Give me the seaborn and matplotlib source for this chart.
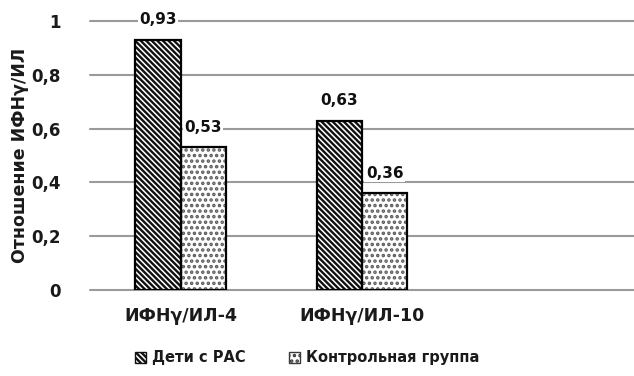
import matplotlib
matplotlib.use("Agg")
import matplotlib.pyplot as plt
from matplotlib.patches import Rectangle
import seaborn as sns
import pandas as pd

# Chart data
categories = ["ИФНγ/ИЛ-4", "ИФНγ/ИЛ-10"]
groups = ["Дети с РАС", "Контрольная группа"]
values_asd = [0.93, 0.63]
values_control = [0.53, 0.36]
y_ticks = [0, 0.2, 0.4, 0.6, 0.8, 1.0]
y_tick_labels = ["0", "0,2", "0,4", "0,6", "0,8", "1"]

df = pd.DataFrame({
    "category": categories * 2,
    "group": [groups[0]] * 2 + [groups[1]] * 2,
    "value": values_asd + values_control,
})

sns.set_style("white")
plt.rcParams["font.family"] = ["DejaVu Sans"]
plt.rcParams["font.weight"] = "bold"
plt.rcParams["hatch.linewidth"] = 1.7
plt.rcParams["text.color"] = "#1a1a1a"
plt.rcParams["xtick.color"] = "#1a1a1a"
plt.rcParams["ytick.color"] = "#1a1a1a"
plt.rcParams["axes.labelcolor"] = "#1a1a1a"

fig = plt.figure(figsize=(6.34, 3.76), dpi=100)
ax = fig.add_axes([0.142, 0.229, 0.858, 0.715])

sns.barplot(data=df, x="category", y="value", hue="group", order=categories,
            hue_order=groups, width=0.5, palette=["white", "white"],
            legend=False, ax=ax, zorder=3)

styles = {
    groups[0]: dict(face="white", hatch="\\" * 6, hcolor="#111111"),
    groups[1]: dict(face="white", hatch="...", hcolor="#5a5a5a"),
}

for container, g in zip(ax.containers, groups):
    st = styles[g]
    for bar in container:
        bar.set_facecolor(st["face"])
        bar.set_hatch(st["hatch"])
        bar.set_edgecolor(st["hcolor"])
        bar.set_linewidth(0)
        # solid black outline around each bar
        ax.add_patch(Rectangle((bar.get_x(), bar.get_y()), bar.get_width(),
                               bar.get_height(), fill=False, edgecolor="black",
                               linewidth=1.6, zorder=4))
    labels = [f"{v:.2f}".replace(".", ",") for v in container.datavalues]
    texts = ax.bar_label(container, labels=labels, padding=9, fontsize=11,
                         fontweight="bold", color="#111111", clip_on=False,
                         zorder=5)
    for t in texts:
        t.set_bbox(dict(facecolor="white", edgecolor="none", pad=1.0))

ax.set_xlim(-0.5, 2.5)
ax.set_ylim(0, 1)
ax.set_yticks(y_ticks)
ax.set_yticklabels(y_tick_labels, fontsize=12, fontweight="bold")
ax.tick_params(axis="y", length=0, pad=21)
ax.tick_params(axis="x", length=0, pad=12, labelsize=12.5)
for lbl in ax.get_xticklabels():
    lbl.set_fontweight("bold")

ax.set_xlabel("")
ax.set_ylabel("Отношение ИФНγ/ИЛ", fontsize=12.5, fontweight="bold", labelpad=2)

for y in y_ticks:
    ax.axhline(y, color="#9a9a9a", linewidth=1.5, zorder=1, clip_on=False)
for s in ax.spines.values():
    s.set_visible(False)

# legend with pattern swatches
handles = [
    Rectangle((0, 0), 1, 1, facecolor="white", hatch="\\" * 6,
              edgecolor="#111111", linewidth=1.0),
    Rectangle((0, 0), 1, 1, facecolor="white", hatch="...",
              edgecolor="#3a3a3a", linewidth=1.0),
]
fig.legend(handles, groups, loc="center", bbox_to_anchor=(0.485, 0.048),
           ncol=2, frameon=False, prop={"weight": "bold", "size": 10.5},
           handlelength=0.75, handleheight=0.75, handletextpad=0.4,
           columnspacing=3.0)

fig.savefig("out.png", dpi=100)
